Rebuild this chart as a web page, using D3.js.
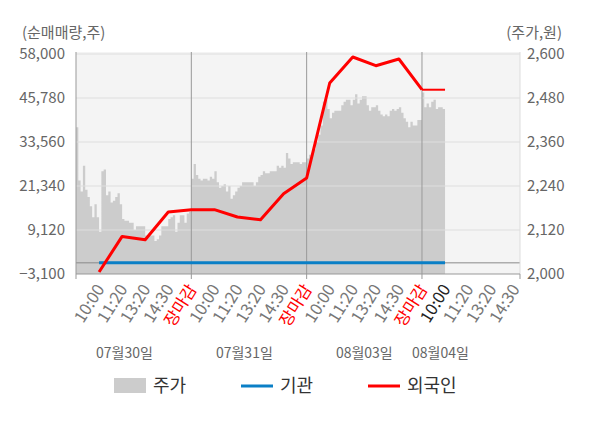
<!DOCTYPE html>
<html>
<head>
<meta charset="utf-8">
<script src="https://cdn.jsdelivr.net/npm/d3@7"></script>
<style>
  body { margin: 0; background: #fff; }
  text { font-family: "Noto Sans CJK KR", "Noto Sans", sans-serif; }
</style>
</head>
<body>
<svg width="600" height="428"></svg>
<script>
// trading days and intraday tick labels
const days = ['07월30일', '07월31일', '08월03일', '08월04일']
const timeLabels = ['10:00', '11:20', '13:20', '14:30', '장마감']
const leftTicks = [-3100, 9120, 21340, 33560, 45780, 58000]
const rightTicks = [2000, 2120, 2240, 2360, 2480, 2600]

// stock price (원), 10 samples per label slot, 50 per day
const price0730 = [2400, 2255, 2225, 2295, 2230, 2210, 2185, 2155, 2190, 2155,
  2115, 2280, 2285, 2215, 2225, 2195, 2200, 2210, 2220, 2190,
  2150, 2145, 2145, 2140, 2140, 2120, 2130, 2130, 2130, 2130,
  2105, 2105, 2105, 2105, 2090, 2095, 2105, 2130, 2130, 2130,
  2150, 2155, 2160, 2115, 2140, 2160, 2160, 2140, 2165, 2170]
const price0731 = [2260, 2300, 2270, 2260, 2255, 2260, 2260, 2255, 2265, 2260,
  2280, 2250, 2235, 2240, 2245, 2225, 2240, 2205, 2215, 2225,
  2235, 2240, 2250, 2250, 2250, 2250, 2250, 2240, 2250, 2265,
  2270, 2280, 2275, 2275, 2280, 2280, 2280, 2295, 2290, 2295,
  2290, 2330, 2315, 2300, 2305, 2305, 2305, 2300, 2305, 2305]
const price0803 = [2315, 2325, 2330, 2340, 2360, 2380, 2405, 2470, 2475, 2450,
  2425, 2440, 2445, 2445, 2445, 2460, 2470, 2475, 2475, 2460,
  2475, 2490, 2465, 2475, 2485, 2485, 2460, 2445, 2455, 2455,
  2460, 2445, 2435, 2430, 2435, 2430, 2445, 2450, 2445, 2450,
  2455, 2440, 2425, 2415, 2400, 2415, 2405, 2405, 2420, 2420]
const price0804 = [2495, 2455, 2465, 2455, 2470, 2475, 2450, 2455, 2455, 2450]

// cumulative net buying (주) at each label slot
const institution = [0, 0, 0, 0, 0, 0, 0, 0, 0, 0, 0, 0, 0, 0, 0, 0]
const foreign = [-2550, 7340, 6430, 14120, 14760, 14760, 12730, 11980,
  19200, 23560, 49940, 57160, 54750, 56610, 48080, 48080]

// where the date captions sit, in label slots
const dateSlots = [2.1, 7.3, 12.5, 15.8]

const slotsPerDay = timeLabels.length
const samplesPerSlot = 10

const svg = d3.select('svg')
const plotLeft = 76, plotRight = 520, plotTop = 54, plotBottom = 274

const x = d3.scaleLinear().domain([0, 19.25]).range([plotLeft, plotRight])
const yL = d3.scaleLinear().domain([leftTicks[0], leftTicks[5]]).range([plotBottom, plotTop])
const yR = d3.scaleLinear().domain([rightTicks[0], rightTicks[5]]).range([plotBottom, plotTop])

// build price points
const priceData = []
;[price0730, price0731, price0803, price0804].forEach((arr, d) => {
  arr.forEach((p, i) => priceData.push({ slot: d * slotsPerDay + i / samplesPerSlot, p }))
})
const lastSlot = 3 * slotsPerDay + price0804.length / samplesPerSlot
priceData.push({ slot: lastSlot, p: price0804[price0804.length - 1] })

// plot background
svg.append('rect')
  .attr('x', plotLeft).attr('y', plotTop - 2)
  .attr('width', plotRight - plotLeft).attr('height', plotBottom - plotTop + 2)
  .attr('fill', '#f4f4f4')

// price area
const area = d3.area()
  .curve(d3.curveStepAfter)
  .x(d => x(d.slot))
  .y0(plotBottom)
  .y1(d => yR(d.p))
svg.append('path').datum(priceData)
  .attr('fill', '#cccccc')
  .attr('d', area)

// gridlines
svg.append('g').selectAll('line')
  .data(leftTicks.slice(1))
  .join('line')
  .attr('x1', plotLeft).attr('x2', plotRight)
  .attr('y1', d => yL(d)).attr('y2', d => yL(d))
  .attr('stroke', '#dedede')

// zero line
svg.append('line')
  .attr('x1', plotLeft).attr('x2', plotRight)
  .attr('y1', yL(0)).attr('y2', yL(0))
  .attr('stroke', '#8a8a8a')

// right axis line
svg.append('line')
  .attr('x1', plotRight).attr('x2', plotRight)
  .attr('y1', plotTop - 2).attr('y2', plotBottom)
  .attr('stroke', '#dddddd')

// day separators
svg.append('g').selectAll('line')
  .data(d3.range(0, days.length).map(d => d * slotsPerDay))
  .join('line')
  .attr('x1', d => x(d)).attr('x2', d => x(d))
  .attr('y1', plotTop - 2).attr('y2', plotBottom + 5)
  .attr('stroke', '#999')
svg.append('line')
  .attr('x1', plotRight).attr('x2', plotRight)
  .attr('y1', plotBottom).attr('y2', plotBottom + 5)
  .attr('stroke', '#999')

// bottom axis
svg.append('line')
  .attr('x1', plotLeft).attr('x2', plotRight)
  .attr('y1', plotBottom).attr('y2', plotBottom)
  .attr('stroke', '#999')

// net buying lines
const netLine = d3.line()
  .x((d, i) => x(i + 1))
  .y(d => yL(d))

svg.append('path').datum(institution)
  .attr('fill', 'none')
  .attr('stroke', '#0a7fc6')
  .attr('stroke-width', 3)
  .attr('d', netLine)

svg.append('path').datum(foreign.slice(0, foreign.length - 1))
  .attr('fill', 'none')
  .attr('stroke', '#ff0000')
  .attr('stroke-width', 3)
  .attr('stroke-linejoin', 'round')
  .attr('d', netLine)
svg.append('line')
  .attr('x1', x(foreign.length - 1)).attr('x2', x(foreign.length))
  .attr('y1', yL(foreign[foreign.length - 2])).attr('y2', yL(foreign[foreign.length - 1]))
  .attr('stroke', '#ff0000')
  .attr('stroke-width', 2)

// y axis labels
const fmt = d3.format(',')
svg.append('g').selectAll('text')
  .data(leftTicks)
  .join('text')
  .attr('x', plotLeft - 11).attr('y', d => yL(d))
  .attr('dy', '0.35em')
  .attr('text-anchor', 'end')
  .attr('font-size', 15)
  .attr('fill', '#666')
  .text(d => fmt(d))

svg.append('g').selectAll('text')
  .data(rightTicks)
  .join('text')
  .attr('x', plotRight + 7).attr('y', d => yR(d))
  .attr('dy', '0.35em')
  .attr('font-size', 15)
  .attr('fill', '#666')
  .text(d => fmt(d))

svg.append('text')
  .attr('x', 22).attr('y', 38)
  .attr('font-size', 15)
  .attr('fill', '#666')
  .text('(순매매량,주)')
svg.append('text')
  .attr('x', 562).attr('y', 38)
  .attr('text-anchor', 'end')
  .attr('font-size', 15)
  .attr('fill', '#666')
  .text('(주가,원)')

// time tick labels
const slots = d3.range(1, 20).filter(s => x(s) <= plotRight + 1)
svg.append('g').selectAll('text')
  .data(slots)
  .join('text')
  .attr('transform', s => `translate(${x(s) + 6},${plotBottom + 15}) rotate(-58)`)
  .attr('text-anchor', 'end')
  .attr('font-size', 16.5)
  .attr('fill', s => {
    const lab = timeLabels[(s - 1) % slotsPerDay]
    if (lab === '장마감') return '#ff0000'
    if (s === lastSlot) return '#222'
    return '#777'
  })
  .text(s => timeLabels[(s - 1) % slotsPerDay])

// date captions
svg.append('g').selectAll('text')
  .data(days)
  .join('text')
  .attr('x', (d, i) => x(dateSlots[i]))
  .attr('y', 358)
  .attr('text-anchor', 'middle')
  .attr('font-size', 14)
  .attr('fill', '#666')
  .text(d => d)

// legend
const legend = [
  { name: '주가', kind: 'rect', color: '#cccccc' },
  { name: '기관', kind: 'line', color: '#0a7fc6' },
  { name: '외국인', kind: 'line', color: '#ff0000' }
]
const lg = svg.append('g').selectAll('g')
  .data(legend)
  .join('g')
  .attr('transform', (d, i) => `translate(${114 + i * 127},386)`)
lg.filter(d => d.kind === 'rect').append('rect')
  .attr('x', 0).attr('y', -8).attr('width', 32).attr('height', 15)
  .attr('fill', d => d.color)
lg.filter(d => d.kind === 'line').append('line')
  .attr('x1', 0).attr('x2', 32).attr('y1', 0).attr('y2', 0)
  .attr('stroke', d => d.color).attr('stroke-width', 3)
lg.append('text')
  .attr('x', 39).attr('y', 0).attr('dy', '0.35em')
  .attr('font-size', 18)
  .attr('fill', '#333')
  .text(d => d.name)
</script>
</body>
</html>
